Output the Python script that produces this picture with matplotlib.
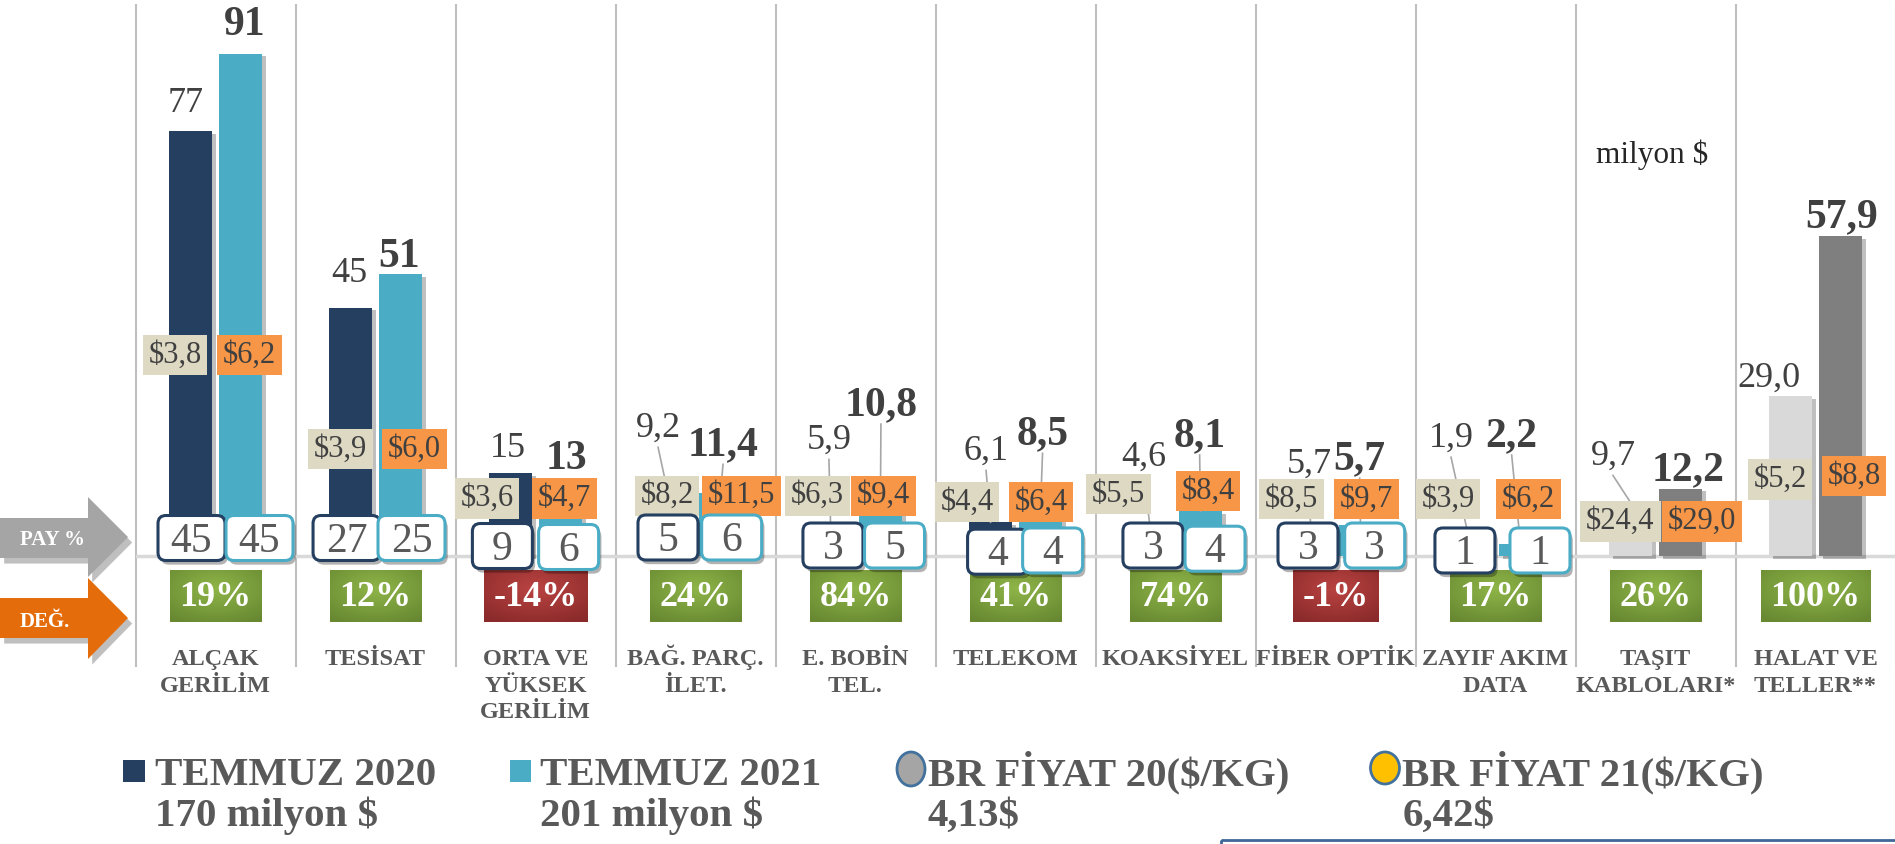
import numpy as np
import matplotlib
matplotlib.use("Agg")
import matplotlib.pyplot as plt
import matplotlib.patheffects as pe
from matplotlib.patches import FancyBboxPatch, Polygon, Rectangle, Ellipse
from matplotlib.transforms import ScaledTranslation

plt.rcParams['font.family'] = ['Liberation Serif', 'DejaVu Serif']

# ---- data ----
categories = ["ALÇAK\nGERİLİM", "TESİSAT", "ORTA VE\nYÜKSEK\nGERİLİM", "BAĞ. PARÇ.\nİLET.",
              "E. BOBİN\nTEL.", "TELEKOM", "KOAKSİYEL", "FİBER OPTİK", "ZAYIF AKIM\nDATA",
              "TAŞIT\nKABLOLARI*", "HALAT VE\nTELLER**"]
temmuz_2020 = [77, 45, 15, 9.2, 5.9, 6.1, 4.6, 5.7, 1.9, 9.7, 29.0]
temmuz_2021 = [91, 51, 13, 11.4, 10.8, 8.5, 8.1, 5.7, 2.2, 12.2, 57.9]
fiyat_2020 = [3.8, 3.9, 3.6, 8.2, 6.3, 4.4, 5.5, 8.5, 3.9, 24.4, 5.2]
fiyat_2021 = [6.2, 6.0, 4.7, 11.5, 9.4, 6.4, 8.4, 9.7, 6.2, 29.0, 8.8]
pay_2020 = [45, 27, 9, 5, 3, 4, 3, 3, 1]
pay_2021 = [45, 25, 6, 6, 5, 4, 4, 3, 1]
degisim = [19, 12, -14, 24, 84, 41, 74, -1, 17, 26, 100]

legend_items = ["TEMMUZ 2020", "TEMMUZ 2021", "BR FİYAT 20($/KG)", "BR FİYAT 21($/KG)"]
legend_sub = ["170 milyon $", "201 milyon $", "4,13$", "6,42$"]

# label placement (hand-moved in the original): x offset from category centre, y in data units
lbl20_dx = [-0.184, -0.166, -0.172, -0.234, -0.166, -0.184, -0.199, -0.166, -0.278, -0.266, -0.293]
lbl20_y = [82.8, 52.0, 20.3, 23.9, 21.7, 19.7, 18.7, 17.4, 22.1, 18.8, 32.9]
lbl21_dx = [0.181, 0.147, 0.191, 0.172, 0.159, 0.169, 0.151, 0.151, 0.101, 0.203, 0.166]
lbl21_y = [97.0, 55.0, 18.4, 20.8, 28.1, 22.8, 22.5, 18.3, 22.5, 16.3, 62.1]
box20_dx = [-0.253, -0.219, -0.303, -0.178, -0.237, -0.303, -0.357, -0.274, -0.297, -0.219, -0.222]
box20_y = [36.4, 19.4, 10.4, 10.9, 10.9, 9.8, 11.2, 10.3, 10.3, 6.2, 13.9]
box21_dx = [0.2125, 0.244, 0.181, 0.288, 0.175, 0.159, 0.203, 0.195, 0.208, 0.291, 0.241]
box21_y = [36.4, 19.4, 10.4, 10.9, 10.9, 9.8, 11.8, 10.3, 10.3, 6.2, 14.5]
pay20_dx = [-0.15, -0.181, -0.207, -0.172, -0.141, -0.112, -0.141, -0.172, -0.191]
pay20_y = [3.26, 3.26, 1.81, 3.35, 1.90, 0.78, 1.90, 1.90, 1.0]
pay21_dx = [0.275, 0.225, 0.207, 0.226, 0.244, 0.232, 0.247, 0.245, 0.278]
pay21_y = [3.26, 3.26, 1.63, 3.35, 1.90, 1.0, 1.32, 1.90, 1.0]

# ---- colours ----
NAVY, LBLUE = '#243F60', '#4BACC6'
LGREY, DGREY = '#D9D9D9', '#7F7F7F'
BEIGE, ORANGE = '#DDD9C3', '#F79646'
TXT, CAT = '#404040', '#595959'

W, H = 1895, 844
fig = plt.figure(figsize=(W / 100, H / 100), dpi=100)
deco = fig.add_axes([0, 0, 1, 1], zorder=-1)
deco.set_xlim(0, W)
deco.set_ylim(H, 0)
deco.axis('off')

ax = fig.add_axes([135.5 / W, (H - 667) / H, 1760 / W, 663 / H])
ax.axis('off')
YMIN, YMAX = -20.11, 100.0
x = np.arange(len(categories))

def fmt(v, i):
    return f"{v:.0f}" if i < 3 else f"{v:.1f}".replace('.', ',')

# separators and base line
ax.vlines(np.arange(-0.5, len(categories)), YMIN, YMAX, color='#BFBFBF', lw=1.5, zorder=1, clip_on=False)
ax.axhline(0, color='#D9D9D9', lw=2.5, zorder=1)

# bars
c20 = [NAVY] * 9 + [LGREY] * 2
c21 = [LBLUE] * 9 + [DGREY] * 2
shadow = [pe.SimplePatchShadow(offset=(3, -2), shadow_rgbFace='k', alpha=0.25), pe.Normal()]
b20 = ax.bar(x - 0.156, temmuz_2020, 0.272, color=c20, zorder=2)
b21 = ax.bar(x + 0.156, temmuz_2021, 0.272, color=c21, zorder=2)
for p in list(b20) + list(b21):
    p.set_path_effects(shadow)

# value labels + leader lines
for i in range(len(categories)):
    for vals, dxs, ys, off, bold in [(temmuz_2020, lbl20_dx, lbl20_y, -0.156, False),
                                      (temmuz_2021, lbl21_dx, lbl21_y, 0.156, True)]:
        lx, ly, v = i + dxs[i], ys[i], vals[i]
        ax.text(lx, ly - 0.75, fmt(v, i), ha='center', va='center', color=TXT,
                fontsize=30 if bold else 26, fontweight='bold' if bold else 'normal', zorder=8)
        if ly - v > 8:
            ax.plot([lx, i + off], [ly - 4.2, v], color='#A6A6A6', lw=1.2, zorder=3)

# price boxes
for i in range(len(categories)):
    for vals, dxs, ys, fc in [(fiyat_2020, box20_dx, box20_y, BEIGE), (fiyat_2021, box21_dx, box21_y, ORANGE)]:
        ax.text(i + dxs[i], ys[i], f"${vals[i]:.1f}".replace('.', ','), ha='center', va='center',
                color=TXT, fontsize=22, zorder=5,
                bbox=dict(boxstyle='square,pad=0.19', fc=fc, ec='none'))

# PAY % boxes (rounded, fixed pixel size)
box_shadow = [pe.SimplePatchShadow(offset=(2, -3), shadow_rgbFace='k', alpha=0.3), pe.Normal()]
for i in range(len(pay_2020)):
    for vals, dxs, ys, ec in [(pay_2020, pay20_dx, pay20_y, NAVY), (pay_2021, pay21_dx, pay21_y, LBLUE)]:
        bx, by = i + dxs[i], ys[i]
        s = str(vals[i])
        w = 67 if len(s) > 1 else 60
        h = 45
        tr = fig.dpi_scale_trans + ScaledTranslation(bx, by, ax.transData)
        patch = FancyBboxPatch((-w / 200, -h / 200), w / 100, h / 100,
                               boxstyle='round,pad=0,rounding_size=0.08', fc='white', ec=ec,
                               lw=2.2, transform=tr, zorder=6, clip_on=False)
        patch.set_path_effects(box_shadow)
        ax.add_patch(patch)
        ax.text(bx, by - 0.6, s, ha='center', va='center', color=CAT, fontsize=30, zorder=7)

# DEĞ. boxes with radial gradient
renderer = fig.canvas.get_renderer()
yy, xx = np.mgrid[-1:1:40j, -1:1:90j]
r = np.clip(np.sqrt(xx ** 2 + (yy + 0.3) ** 2) / 1.5, 0, 1)[..., None]
green = np.array([143, 181, 72]) / 255 * (1 - r) + np.array([104, 137, 50]) / 255 * r
red = np.array([186, 68, 66]) / 255 * (1 - r) + np.array([138, 42, 42]) / 255 * r
for i, d in enumerate(degisim):
    t = ax.text(i, -7.6, f"{d}%", ha='center', va='center', color='white',
                fontsize=26, fontweight='bold', zorder=6)
    tw = t.get_window_extent(renderer).width
    w = (tw + 19.5) / 160
    ax.imshow(green if d >= 0 else red, extent=(i - w / 2, i + w / 2, -11.96, -2.54),
              aspect='auto', interpolation='bilinear', zorder=5)

# category names
for i, name in enumerate(categories):
    for k, line in enumerate(name.split('\n')):
        ax.text(i, (556 - 665 - 26.7 * k) / 5.52, line, ha='center', va='baseline', color=CAT,
                fontsize=17.5, fontweight='bold', zorder=6, clip_on=False)

ax.set_xlim(-0.5, len(categories) - 0.5)
ax.set_ylim(YMIN, YMAX)

# left arrows
arr_shadow = [pe.SimplePatchShadow(offset=(3, -4), shadow_rgbFace='k', alpha=0.25), pe.Normal()]
grey_arrow = Polygon([(0, 518), (88, 518), (88, 497), (128, 537), (88, 577), (88, 558), (0, 558)],
                     closed=True, fc='#A5A5A5', ec='none')
orange_arrow = Polygon([(0, 598), (88, 598), (88, 578), (128, 618), (88, 659), (88, 638), (0, 638)],
                       closed=True, fc='#E46C0A', ec='none')
for a in (grey_arrow, orange_arrow):
    a.set_path_effects(arr_shadow)
    deco.add_patch(a)
deco.text(53, 540, "PAY %", ha='center', va='center', color='white', fontsize=15, fontweight='bold')
deco.text(45, 622, "DEĞ.", ha='center', va='center', color='white', fontsize=15, fontweight='bold')

# unit note
deco.text(1652, 163, "milyon $", ha='center', va='baseline', color='#262626', fontsize=22.5)

# legend
deco.add_patch(Rectangle((123, 760), 22, 22, fc=NAVY, ec='none'))
deco.add_patch(Rectangle((510, 760), 21, 22, fc=LBLUE, ec='none'))
deco.add_patch(Ellipse((911, 769), 28, 34, fc='#A5A5A5', ec='#41719C', lw=2))
deco.add_patch(Ellipse((1385, 768), 29, 32, fc='#FFC000', ec='#41719C', lw=2))
for xs, xs2, txt, sub in zip([155, 540, 928, 1402], [155, 540, 927, 1403], legend_items, legend_sub):
    deco.text(xs, 785, txt, ha='left', va='baseline', color=CAT, fontsize=29.5, fontweight='bold')
    deco.text(xs2, 826, sub, ha='left', va='baseline', color=CAT, fontsize=29.5, fontweight='bold')

# frame edge of a text box at the bottom right
deco.add_patch(Rectangle((1221, 840), 700, 20, fill=False, ec='#3F6797', lw=2))

fig.savefig("out.png", dpi=100)
